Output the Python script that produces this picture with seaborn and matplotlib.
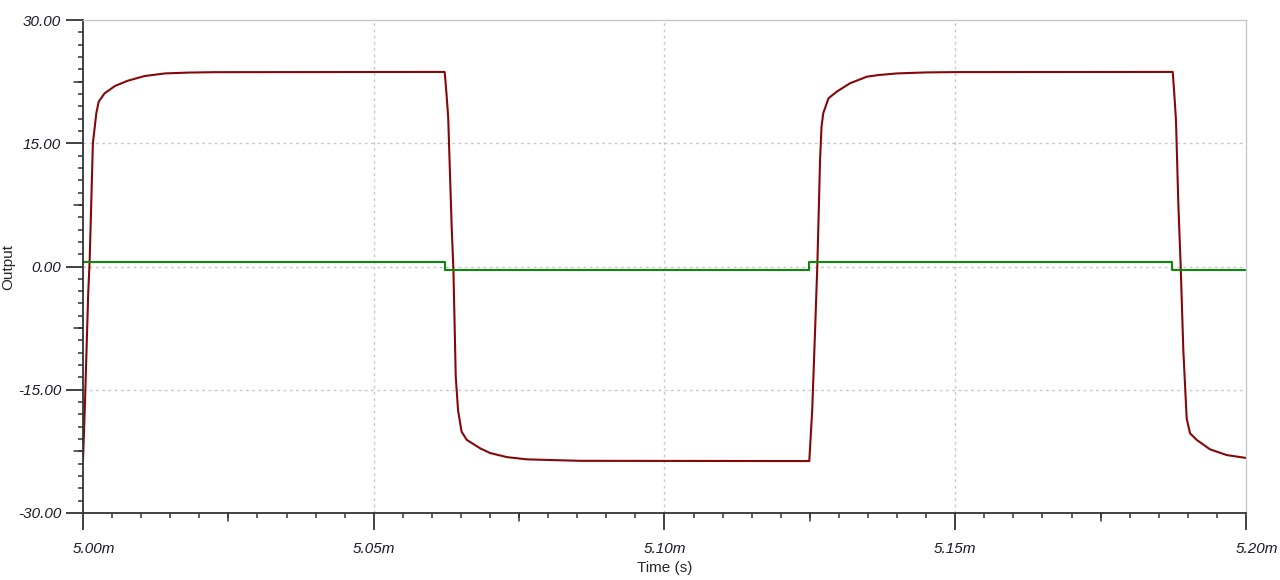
import numpy as np
import pandas as pd
import seaborn as sns
import matplotlib.pyplot as plt
import matplotlib.transforms as mtransforms
from matplotlib.ticker import MultipleLocator, FixedLocator, FuncFormatter

# time in ms (axis shows 5.00m ... 5.20m)
red_t = [5.0000, 5.0003, 5.0009, 5.00115, 5.0017, 5.0023, 5.0027, 5.0037, 5.0055, 5.0077,
         5.0106, 5.0141, 5.0181, 5.0225, 5.0622,
         5.0625, 5.0628, 5.0634, 5.0637, 5.0641, 5.0645, 5.0651, 5.0660, 5.0683, 5.0700,
         5.0729, 5.0763, 5.0803, 5.0855, 5.1249,
         5.1254, 5.1259, 5.1263, 5.12675, 5.1270, 5.1273, 5.1282, 5.1296, 5.1319, 5.1348,
         5.1368, 5.1400, 5.1450, 5.1500, 5.1874,
         5.18762, 5.18796, 5.18836, 5.18877, 5.18922, 5.1898, 5.19037, 5.19152, 5.19381,
         5.19668, 5.2000]
red_v = [-23.55, -17.5, -3.2, 0.8, 15.0, 18.7, 20.06, 21.07, 21.97, 22.61,
         23.18, 23.5, 23.6, 23.65, 23.68,
         21.1, 18.2, 4.85, -0.4, -13.4, -17.5, -20.1, -21.1, -22.13, -22.7,
         -23.2, -23.47, -23.55, -23.65, -23.68,
         -17.5, -7.7, 0.55, 12.96, 17.0, 18.65, 20.47, 21.27, 22.3, 23.1,
         23.3, 23.5, 23.62, 23.66, 23.68,
         21.5, 17.8, 7.7, 0.0, -10.16, -18.5, -20.3, -21.1, -22.25,
         -22.95, -23.3]

green_t = [5.0000, 5.0622, 5.0622, 5.1248, 5.1248, 5.1873, 5.1873, 5.2000]
green_v = [0.51, 0.51, -0.46, -0.46, 0.51, 0.51, -0.46, -0.46]

x_ticks = [5.00, 5.05, 5.10, 5.15, 5.20]
y_ticks = [-30, -15, 0, 15, 30]

red_df = pd.DataFrame({'t': red_t, 'v': red_v})
green_df = pd.DataFrame({'t': green_t, 'v': green_v})

sns.set_style('white')
plt.rcParams['font.family'] = ['Liberation Sans', 'DejaVu Sans']

fig = plt.figure(figsize=(12.8, 5.8), dpi=100)
ax = fig.add_axes([83/1280, 1-513/580, (1246-83)/1280, (513-20)/580])

sns.lineplot(data=red_df, x='t', y='v', ax=ax, color='#850808', lw=1.5,
             sort=False, estimator=None)
sns.lineplot(data=green_df, x='t', y='v', ax=ax, color='#0a8a0a', lw=1.5,
             sort=False, estimator=None)

ax.set_xlim(5.0, 5.2)
ax.set_ylim(-30, 30)

# grid
for x in x_ticks[1:-1]:
    ax.axvline(x, color='#c8c8c8', lw=1, ls=(0, (2, 2.5)), zorder=0)
for y in y_ticks[1:-1]:
    ax.axhline(y, color='#c8c8c8', lw=1, ls=(0, (2, 2.5)), zorder=0)

# spines
for s in ['top', 'right']:
    ax.spines[s].set_color('#c8c8c8')
    ax.spines[s].set_linewidth(1)
for s in ['left', 'bottom']:
    ax.spines[s].set_color('#333333')
    ax.spines[s].set_linewidth(1.3)

# ticks (lengths in points: 17px ~ 12.2pt)
ax.xaxis.set_major_locator(FixedLocator(x_ticks))
ax.yaxis.set_major_locator(FixedLocator(y_ticks))
ax.xaxis.set_minor_locator(MultipleLocator(0.005))
ax.yaxis.set_minor_locator(MultipleLocator(1.5))
ax.xaxis.set_major_formatter(FuncFormatter(lambda v, p: '%.2fm' % v))
ax.yaxis.set_major_formatter(FuncFormatter(lambda v, p: '%.2f' % v))
ax.tick_params(axis='both', which='major', direction='out', length=12.2, width=1.3,
               color='#333333', labelsize=11, labelcolor='#1a1a2a',
               bottom=True, left=True)
ax.tick_params(axis='y', which='major', pad=3.5)
ax.tick_params(axis='x', which='major', pad=9)
ax.tick_params(axis='both', which='minor', direction='out', length=3.6, width=1.1,
               color='#333333', bottom=True, left=True)
for lab in ax.get_xticklabels() + ax.get_yticklabels():
    lab.set_fontstyle('italic')

# first and last x labels sit a bit to the right
xlabs = ax.get_xticklabels()
shift = mtransforms.ScaledTranslation(11/100, 0, fig.dpi_scale_trans)
for i in [0, len(xlabs)-1]:
    xlabs[i].set_transform(xlabs[i].get_transform() + shift)

# medium ticks at half intervals
for x in [5.025, 5.075, 5.125, 5.175]:
    ax.plot([x, x], [0, -0.017], transform=ax.get_xaxis_transform(), color='#333333',
            lw=1.1, clip_on=False)
for y in [-22.5, -7.5, 7.5, 22.5]:
    ax.plot([0, -0.008], [y, y], transform=ax.get_yaxis_transform(), color='#333333',
            lw=1.1, clip_on=False)

ax.set_xlabel('Time (s)', fontsize=11, labelpad=3)
ax.set_ylabel('Output', fontsize=11)
ax.yaxis.set_label_coords(-68/1163, 0.5)

fig.savefig('out.png', dpi=100)
